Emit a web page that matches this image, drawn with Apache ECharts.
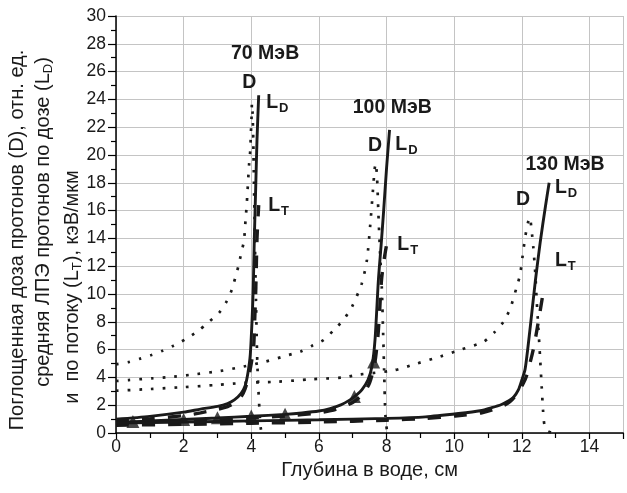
<!DOCTYPE html>
<html><head><meta charset="utf-8">
<script src="https://cdn.jsdelivr.net/npm/echarts@6/dist/echarts.min.js"></script>
<style>html,body{margin:0;padding:0;background:#fff}#c{width:627px;height:493px}</style>
</head><body><div id="c"></div>
<script>
// ---- data (x: depth in water, cm; y: value) ----
const xTicks = [0, 2, 4, 6, 8, 10, 12, 14];
const yTicks = [0, 2, 4, 6, 8, 10, 12, 14, 16, 18, 20, 22, 24, 26, 28, 30];

// Absorbed dose D (dotted)
const d70 = [[0,4.94],[0.37,5.1],[0.72,5.35],[1.05,5.61],[1.38,5.92],[1.7,6.28],[2.05,6.74],[2.39,7.27],[2.72,7.94],[3.06,8.68],[3.28,9.5],[3.43,10.34],[3.53,11.2],[3.62,12.0],[3.7,12.9],[3.77,13.65],[3.81,14.5],[3.83,15.3],[3.86,16.2],[3.88,17.0],[3.9,17.84],[3.92,18.7],[3.94,19.45],[3.97,20.3],[3.99,21.6],[4.01,22.8],[4.02,23.7],[4.04,23.0],[4.06,21],[4.08,18],[4.1,15],[4.12,12],[4.14,9.5],[4.16,7],[4.18,5],[4.21,3.2],[4.24,1.8],[4.27,0.6],[4.3,0]];
const d100 = [[0,3.74],[0.37,3.81],[1.06,3.93],[1.7,4.05],[2.39,4.24],[3.08,4.46],[3.77,4.78],[4.41,5.13],[5.1,5.61],[5.45,5.85],[5.79,6.26],[6.14,6.69],[6.43,7.38],[6.73,8.15],[6.98,9.09],[7.27,10.77],[7.42,12.45],[7.52,15.0],[7.6,17.5],[7.65,19.0],[7.68,19.4],[7.72,18.4],[7.76,15.8],[7.81,12.9],[7.86,10.5],[7.9,7.2],[7.93,4.5],[7.95,2.5],[7.97,1.2],[8.02,0]];
const d130 = [[0,3.04],[1,3.16],[2,3.3],[3,3.46],[3.77,3.6],[4.76,3.69],[5.74,3.86],[6.73,4.0],[7.17,4.2],[8.2,4.5],[8.9,5.0],[9.59,5.5],[10.2,6.0],[10.87,6.57],[11.21,7.29],[11.46,8.0],[11.66,8.97],[11.85,10.5],[11.95,11.4],[12.05,13.2],[12.13,14.5],[12.2,15.3],[12.24,15.5],[12.29,14.6],[12.34,13.4],[12.4,11.5],[12.44,9.6],[12.49,7.6],[12.54,5.5],[12.59,3.3],[12.63,1.6],[12.67,0.6],[12.76,0.15],[12.9,0]];

// Dose-averaged LET L_D (solid)
const ld70 = [[0,1.0],[1,1.2],[2,1.5],[2.5,1.72],[3,1.92],[3.3,2.12],[3.5,2.38],[3.7,2.85],[3.82,3.4],[3.9,4.3],[3.97,5.6],[4.02,7.9],[4.06,10.5],[4.09,13.9],[4.13,17.5],[4.17,21.1],[4.22,24.3]];
const ld100 = [[0,0.76],[0.5,0.81],[1,0.86],[2,0.97],[3,1.08],[4,1.2],[5,1.34],[5.5,1.44],[6,1.58],[6.33,1.76],[6.65,2.02],[6.93,2.4],[7.1,2.7],[7.27,3.1],[7.45,3.8],[7.57,4.8],[7.66,6.7],[7.76,11],[7.84,13.5],[7.91,15.8],[8.0,19],[8.09,21.8]];
const ld130 = [[0,0.72],[2,0.79],[4,0.87],[6,0.95],[8,1.05],[9.15,1.16],[10.13,1.4],[10.77,1.6],[11.11,1.82],[11.4,2.05],[11.6,2.3],[11.75,2.55],[11.9,3.1],[12.0,3.8],[12.1,4.6],[12.25,7.6],[12.4,10.9],[12.55,13.8],[12.7,16.3],[12.81,18.0]];

// Fluence-averaged LET L_T (dashed)
const lt70 = [[0,0.88],[1,1.02],[2,1.25],[2.5,1.45],[3,1.7],[3.3,1.9],[3.5,2.15],[3.7,2.6],[3.82,3.2],[3.92,4.0],[4.0,5.0],[4.07,6.2],[4.1,8],[4.13,10],[4.15,12],[4.17,14],[4.22,16.4]];
const lt100 = [[0,0.66],[1,0.74],[2,0.84],[3,0.95],[4,1.08],[5,1.22],[6,1.45],[6.5,1.7],[7,2.2],[7.3,2.8],[7.5,3.6],[7.65,5.0],[7.74,6.8],[7.79,8.5],[7.82,9.8],[7.86,11.2],[7.95,12.8],[8.03,13.9]];
const lt130 = [[0,0.56],[2,0.62],[4,0.7],[6,0.79],[8,0.92],[9.15,1.05],[10.03,1.22],[10.82,1.46],[11.3,1.8],[11.65,2.25],[11.9,2.95],[12.05,3.6],[12.14,4.1],[12.34,6.0],[12.49,8.0],[12.66,10.5]];

// Triangle markers (100 MeV)
const tri100 = [[0.5,0.83],[2,0.98],[3,1.1],[4,1.22],[5,1.35],[7.05,2.62],[7.62,5.1]];

// Text annotations: [x, y, text, align]
const notes = [
  [4.41, 27.27, '{b|70 МэВ}', 'center'],
  [3.94, 25.18, '{b|D}', 'center'],
  [4.44, 23.75, '{b|L}{sub|D}', 'left'],
  [4.50, 16.35, '{b|L}{sub|T}', 'left'],
  [8.17, 23.42, '{b|100 МэВ}', 'center'],
  [7.66, 20.68, '{b|D}', 'center'],
  [8.26, 20.75, '{b|L}{sub|D}', 'left'],
  [8.32, 13.55, '{b|L}{sub|T}', 'left'],
  [13.28, 19.28, '{b|130 МэВ}', 'center'],
  [12.04, 16.76, '{b|D}', 'center'],
  [12.98, 17.65, '{b|L}{sub|D}', 'left'],
  [12.98, 12.4, '{b|L}{sub|T}', 'left']
];
const yTitle = [
  'Поглощенная доза протонов (D), отн. ед.',
  'средняя ЛПЭ протонов по дозе (L{sub|D})',
  'и  по потоку (L{sub|T}), кэВ/мкм'
];
const xTitle = 'Глубина в воде, см';

// ---- chart ----
const FONT = 'Liberation Sans, Arial, sans-serif';
const INK = '#1a1a1a';
const chart = echarts.init(document.getElementById('c'), null, {renderer: 'canvas'});

function lineSeries(data, kind) {
  const ls = {color: INK};
  if (kind === 'dot') { ls.width = 2.7; ls.type = [2.7, 9]; }
  else if (kind === 'dash') { ls.width = 3.4; ls.type = [13, 13]; }
  else { ls.width = 2.9; ls.type = 'solid'; }
  return {type: 'line', data: data, showSymbol: false, symbol: 'none', smooth: 0.25,
    lineStyle: ls, z: kind === 'solid' ? 4 : (kind === 'dash' ? 3 : 2), silent: true};
}

chart.setOption({
  animation: false,
  grid: {left: 116, right: 3.8, top: 16, bottom: 60, containLabel: false},
  xAxis: {
    type: 'value', min: 0, max: 15, interval: 2,
    name: xTitle, nameLocation: 'middle', nameGap: 27,
    nameTextStyle: {fontFamily: FONT, fontSize: 20, color: INK},
    axisLine: {lineStyle: {color: '#000', width: 1.5}},
    axisTick: {show: true, length: 6, inside: false, lineStyle: {color: '#000', width: 1.2}},
    minorTick: {show: true, splitNumber: 2, length: 5, lineStyle: {color: '#000', width: 1.2}},
    axisLabel: {fontFamily: FONT, fontSize: 17.5, color: INK, margin: 5, showMaxLabel: false,
      formatter: v => xTicks.indexOf(v) >= 0 ? String(v) : ''},
    splitLine: {show: true, lineStyle: {color: '#c4c4c4', width: 1}}
  },
  yAxis: {
    type: 'value', min: 0, max: 30, interval: 2,
    axisLine: {show: true, lineStyle: {color: '#000', width: 1.5}},
    axisTick: {show: true, length: 8, inside: false, lineStyle: {color: '#000', width: 1.2}},
    minorTick: {show: true, splitNumber: 2, length: 5, lineStyle: {color: '#000', width: 1.2}},
    axisLabel: {fontFamily: FONT, fontSize: 17.5, color: INK, margin: 10,
      formatter: v => yTicks.indexOf(v) >= 0 ? String(v) : ''},
    splitLine: {show: true, lineStyle: {color: '#c4c4c4', width: 1}}
  },
  series: [
    lineSeries(d70, 'dot'), lineSeries(d100, 'dot'), lineSeries(d130, 'dot'),
    lineSeries(lt70, 'dash'), lineSeries(lt100, 'dash'), lineSeries(lt130, 'dash'),
    lineSeries(ld70, 'solid'), lineSeries(ld100, 'solid'), lineSeries(ld130, 'solid'),
    {type: 'scatter', data: tri100, symbol: 'triangle', symbolSize: 13,
      itemStyle: {color: INK}, z: 5, silent: true}
  ]
});

const richNote = {
  b: {fontFamily: FONT, fontSize: 19.5, fontWeight: 'bold', fill: INK, color: INK},
  sub: {fontFamily: FONT, fontSize: 13, fontWeight: 'bold', fill: INK, color: INK, padding: [11, 0, 0, 1]}
};
const richTitle = {
  sub: {fontFamily: FONT, fontSize: 13, fill: INK, color: INK, padding: [10, 0, 0, 0]}
};
const titlePos = [[17, 240], [43, 222], [72, 287]];
const graphics = [];
yTitle.forEach((t, i) => {
  graphics.push({type: 'text', x: titlePos[i][0], y: titlePos[i][1], rotation: Math.PI / 2, silent: true,
    style: {text: t, fontFamily: FONT, fontSize: 20, fill: INK, align: 'center', verticalAlign: 'middle', rich: richTitle}});
});
notes.forEach(n => {
  const p = chart.convertToPixel({gridIndex: 0}, [n[0], n[1]]);
  graphics.push({type: 'text', x: p[0], y: p[1], silent: true, z: 10,
    style: {text: n[2], align: n[3], verticalAlign: 'middle', rich: richNote, fontFamily: FONT, fontSize: 19.5, fill: INK}});
});
chart.setOption({graphic: graphics});
</script></body></html>
